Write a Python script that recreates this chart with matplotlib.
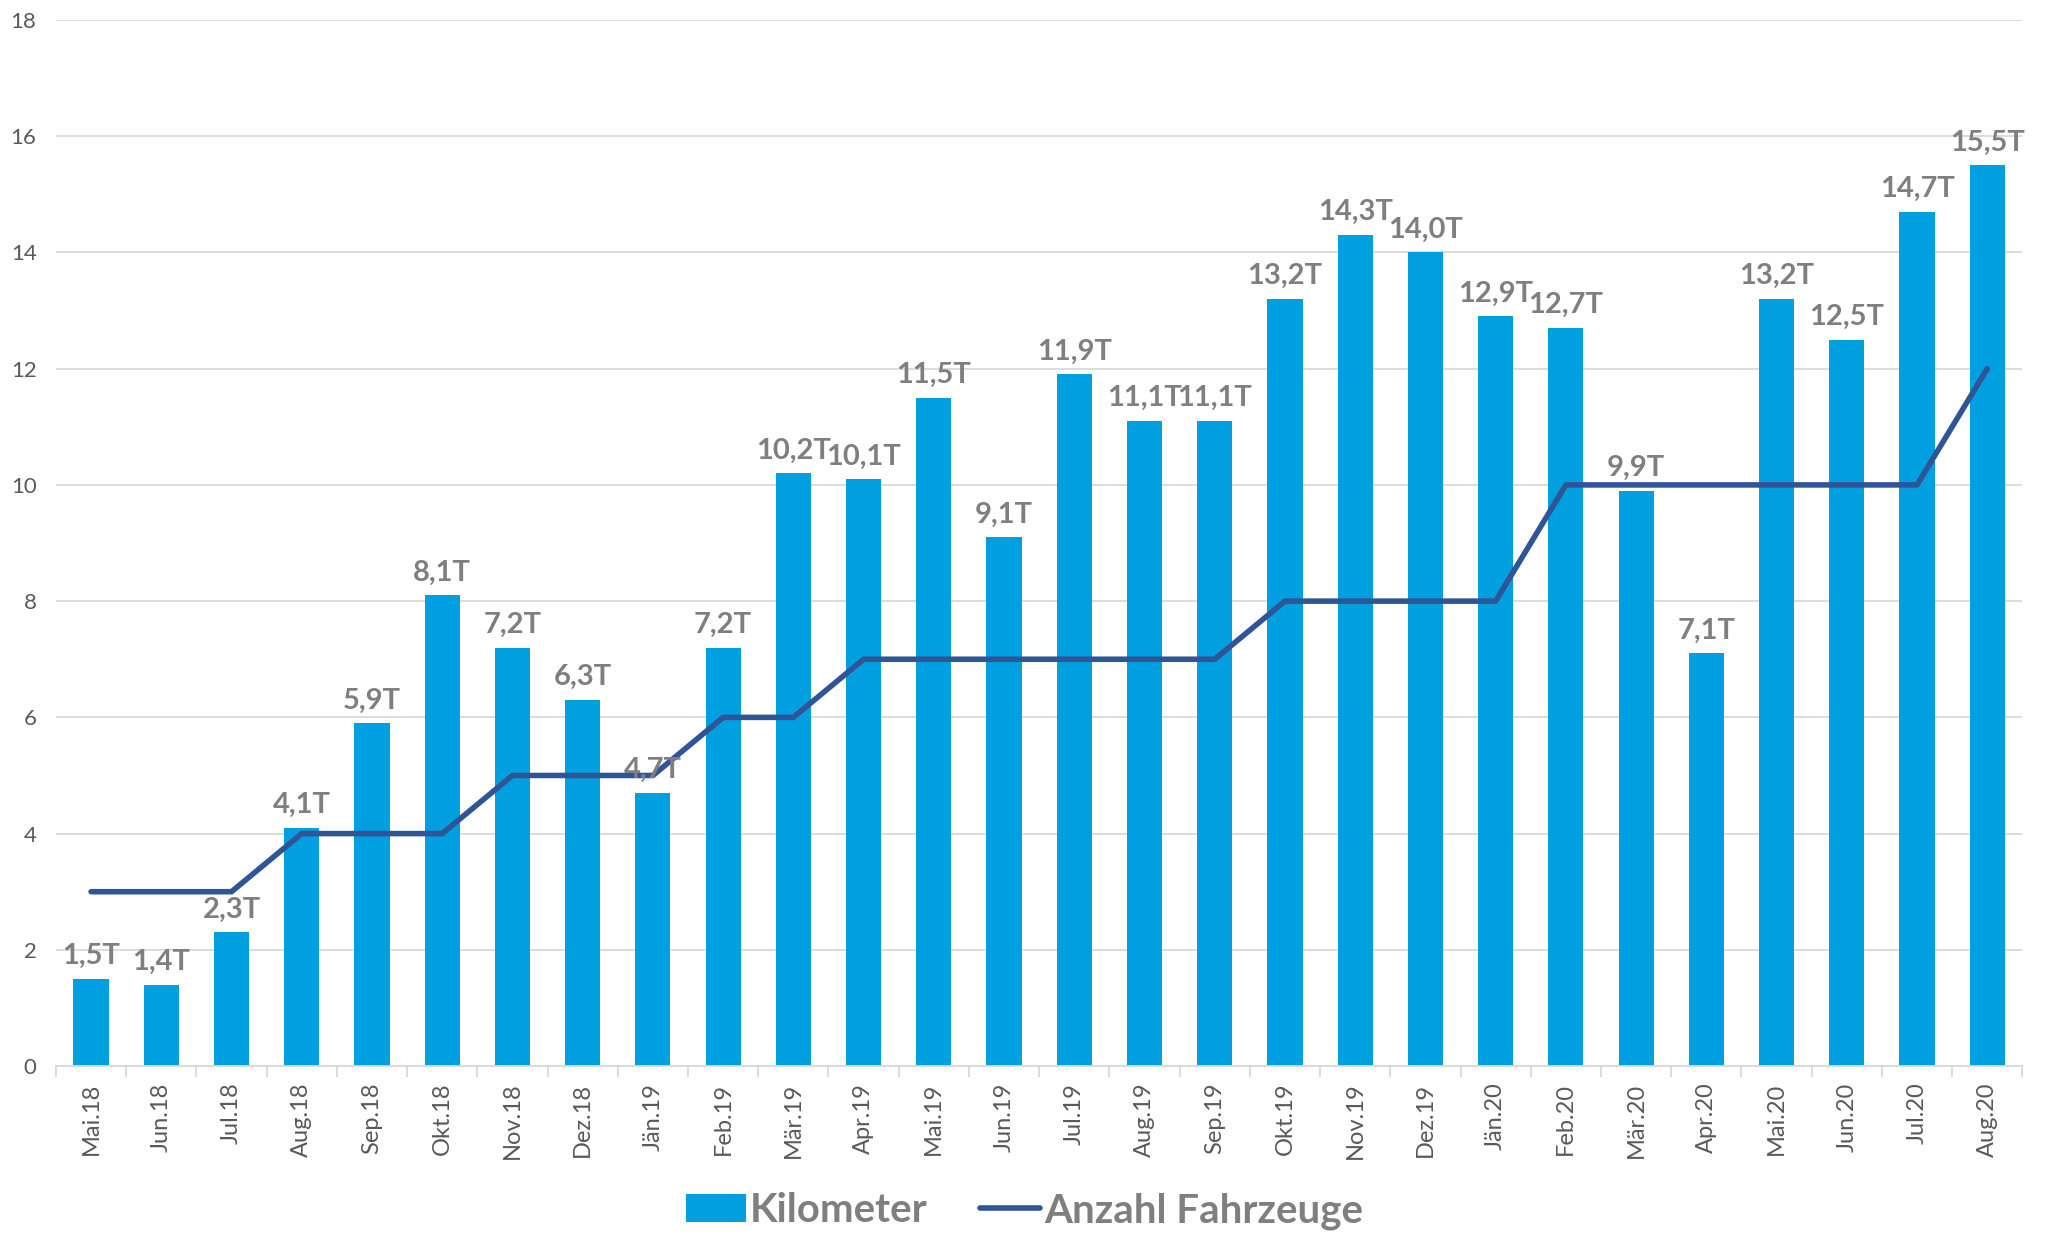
import numpy as np
import matplotlib.pyplot as plt

# monthly data
months = ['Mai.18', 'Jun.18', 'Jul.18', 'Aug.18', 'Sep.18', 'Okt.18', 'Nov.18', 'Dez.18',
          'Jän.19', 'Feb.19', 'Mär.19', 'Apr.19', 'Mai.19', 'Jun.19', 'Jul.19', 'Aug.19',
          'Sep.19', 'Okt.19', 'Nov.19', 'Dez.19', 'Jän.20', 'Feb.20', 'Mär.20', 'Apr.20',
          'Mai.20', 'Jun.20', 'Jul.20', 'Aug.20']
kilometer = [1.5, 1.4, 2.3, 4.1, 5.9, 8.1, 7.2, 6.3, 4.7, 7.2, 10.2, 10.1, 11.5, 9.1,
             11.9, 11.1, 11.1, 13.2, 14.3, 14.0, 12.9, 12.7, 9.9, 7.1, 13.2, 12.5, 14.7, 15.5]
fahrzeuge = [3, 3, 3, 4, 4, 4, 5, 5, 5, 6, 6, 7, 7, 7, 7, 7, 7, 8, 8, 8, 8, 10, 10, 10,
             10, 10, 10, 12]

plt.rcParams['font.family'] = ['Lato', 'DejaVu Sans']

fig = plt.figure(figsize=(20.49, 12.34), dpi=100)
ax = fig.add_axes([0.0273, 0.1361, 0.9597, 0.8477])

x = np.arange(len(months))
bars = ax.bar(x, kilometer, width=0.5, color='#009FDF', label='Kilometer', zorder=2)
line, = ax.plot(x, fahrzeuge, color='#2F5597', lw=4, solid_capstyle='round',
                label='Anzahl Fahrzeuge', zorder=3)

# value labels above bars
for xi, v in zip(x, kilometer):
    ax.annotate(('%.1fT' % v).replace('.', ','), (xi, v), xytext=(0, 7),
                textcoords='offset points', ha='center', va='bottom',
                fontsize=21, fontweight='bold', color='#7F7F7F', zorder=4)

ax.set_xlim(-0.5, len(months) - 0.5)
ax.set_ylim(0, 18)
ax.set_yticks(np.arange(0, 19, 2))
ax.grid(axis='y', color='#D9D9D9', lw=1.3, zorder=0)
ax.set_axisbelow(True)

for s in ['top', 'right', 'left']:
    ax.spines[s].set_visible(False)
ax.spines['bottom'].set_color('#D9D9D9')
ax.spines['bottom'].set_linewidth(1.3)

ax.set_xticks(x)
ax.set_xticklabels(months, rotation=90, fontsize=17, color='#595959')
ax.set_xticks(np.arange(-0.5, len(months)), minor=True)
ax.tick_params(axis='x', which='major', length=0, pad=12)
ax.tick_params(axis='x', which='minor', length=8, color='#D9D9D9', width=1.3)
ax.tick_params(axis='y', length=0, labelsize=16, labelcolor='#595959', pad=14)

leg = fig.legend([bars, line], ['Kilometer', 'Anzahl Fahrzeuge'], loc='lower center',
                 bbox_to_anchor=(0.5, -0.026), ncol=2, frameon=False,
                 prop={'size': 29, 'weight': 'bold'}, handlelength=1.5,
                 handletextpad=0.1, columnspacing=1.3)
for t in leg.get_texts():
    t.set_color('#7F7F7F')

fig.savefig('out.png', dpi=100)
